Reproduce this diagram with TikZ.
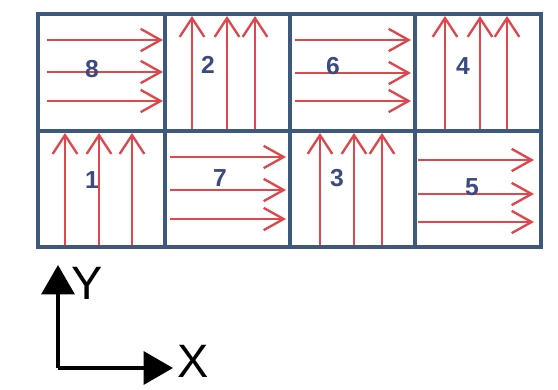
\documentclass[tikz,border=0pt]{standalone}
\usepackage{fontspec}
\setmainfont{Liberation Sans}
\usetikzlibrary{arrows.meta}
\definecolor{framec}{HTML}{3D5A7E}
\definecolor{arrowc}{HTML}{E0474C}
\definecolor{numc}{HTML}{3B4A80}

\begin{document}
\begin{tikzpicture}[x=0.03cm,y=-0.03cm,
    frame/.style={draw=framec, line width=4pt},
    hflow/.style={draw=arrowc, line width=2pt, -{Straight Barb[length=17pt,width=19pt]}},
    vflow/.style={draw=arrowc, line width=2pt, -{Straight Barb[length=16pt,width=21pt]}},
    num/.style={text=numc, font=\fontsize{21}{23}\selectfont\bfseries},
    axlab/.style={font=\fontsize{40}{42}\selectfont},
    axis/.style={line width=3pt, -{Triangle[length=25pt,width=28pt]}}]
    \useasboundingbox (0,0) rectangle (558,389);

    % 横向箭头
    \foreach \y in {40,72,101} \draw[hflow] (47,\y) -- (163,\y);
    \foreach \y in {157,190,219} \draw[hflow] (170,\y) -- (286,\y);
    \foreach \y in {40,73,101} \draw[hflow] (295,\y) -- (411,\y);
    \foreach \y in {160,194,222} \draw[hflow] (418,\y) -- (534,\y);

    % 纵向箭头
    \foreach \x in {192,227,255} \draw[vflow] (\x,131) -- (\x,16);
    \foreach \x in {445,480,507} \draw[vflow] (\x,131) -- (\x,16);
    \foreach \x in {65,99,132} \draw[vflow] (\x,247) -- (\x,133);
    \foreach \x in {320,354,382} \draw[vflow] (\x,247) -- (\x,133);

    % 外框与分格
    \draw[frame] (38,14) rectangle (541,247);
    \draw[frame] (38,131) -- (541,131);
    \draw[frame] (165,14) -- (165,247);
    \draw[frame] (290,14) -- (290,247);
    \draw[frame] (415,14) -- (415,247);

    % 编号
    \node[num] (n8) at (92,69) {8};
    \node[num] (n2) at (208,65) {2};
    \node[num] (n6) at (333,66) {6};
    \node[num] (n4) at (463,66) {4};
    \node[num] (n1) at (92,180) {1};
    \node[num] (n7) at (220,178) {7};
    \node[num] (n3) at (337,178) {3};
    \node[num] (n5) at (472,187) {5};

    % 坐标轴
    \coordinate (o) at (58,368);
    \coordinate (ytip) at (58,265);
    \coordinate (xtip) at (173,368);
    \draw[axis] (o) -- (ytip);
    \draw[axis] (o) -- (xtip);
    \node[axlab] (ylab) at (87,283) {Y};
    \node[axlab] (xlab) at (193,361) {X};
\end{tikzpicture}
\end{document}
